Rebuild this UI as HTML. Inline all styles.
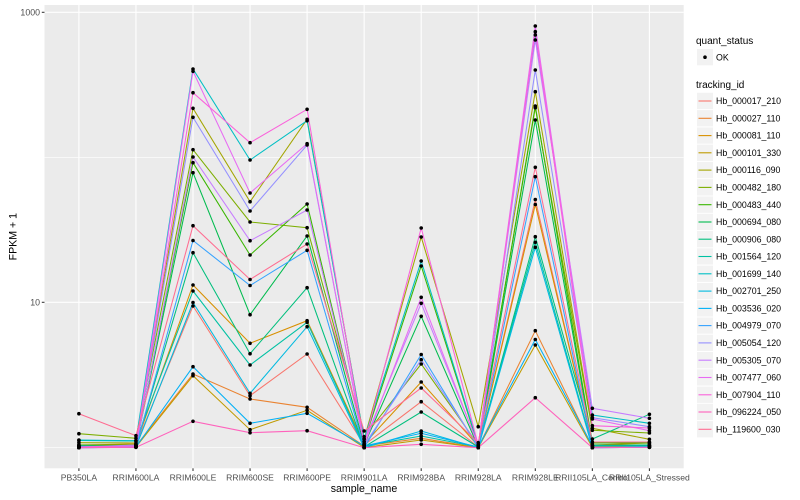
<!DOCTYPE html>
<html><head><meta charset="utf-8"><style>
html,body{margin:0;padding:0;background:#fff;}
svg{display:block;font-family:"Liberation Sans",Arial,sans-serif;}
</style></head><body>
<svg width="800" height="500" viewBox="0 0 800 500" xmlns="http://www.w3.org/2000/svg">
<defs>
<marker id="m" markerWidth="6" markerHeight="6" refX="3" refY="3" markerUnits="userSpaceOnUse" overflow="visible"><circle cx="3" cy="3" r="1.8" fill="#000"/></marker>
</defs>
<rect x="0" y="0" width="800" height="500" fill="#fff"/>
<!-- panel -->
<rect x="44.5" y="5" width="639.2" height="463.3" fill="#EBEBEB"/>
<g stroke="#fff" fill="none">
<line x1="44.5" x2="683.7" y1="157.3" y2="157.3" stroke-width="0.55"/>
<line x1="44.5" x2="683.7" y1="447.3" y2="447.3" stroke-width="0.55"/>
<line x1="44.5" x2="683.7" y1="12.3" y2="12.3" stroke-width="1.1"/>
<line x1="44.5" x2="683.7" y1="302.3" y2="302.3" stroke-width="1.1"/>
<g stroke-width="1.1">
<line x1="78.9" x2="78.9" y1="5" y2="468.3"/>
<line x1="135.95" x2="135.95" y1="5" y2="468.3"/>
<line x1="193" x2="193" y1="5" y2="468.3"/>
<line x1="250.05" x2="250.05" y1="5" y2="468.3"/>
<line x1="307.1" x2="307.1" y1="5" y2="468.3"/>
<line x1="364.15" x2="364.15" y1="5" y2="468.3"/>
<line x1="421.2" x2="421.2" y1="5" y2="468.3"/>
<line x1="478.25" x2="478.25" y1="5" y2="468.3"/>
<line x1="535.3" x2="535.3" y1="5" y2="468.3"/>
<line x1="592.35" x2="592.35" y1="5" y2="468.3"/>
<line x1="649.4" x2="649.4" y1="5" y2="468.3"/>
</g>
</g>
<!-- series lines -->
<g fill="none" stroke-width="1.05">
<polyline stroke="#F8766D" points="78.9,446 135.95,445 193,306 250.05,395.7 307.1,354 364.15,445 421.2,401.7 478.25,447 535.3,199.5 592.35,446 649.4,445"/>
<polyline stroke="#EA8331" points="78.9,447 135.95,446 193,374 250.05,399 307.1,407.3 364.15,446 421.2,438.3 478.25,447.5 535.3,330.7 592.35,447 649.4,446"/>
<polyline stroke="#D89000" points="78.9,445 135.95,444 193,285 250.05,343.3 307.1,320.7 364.15,444 421.2,382 478.25,446 535.3,204.5 592.35,445 649.4,443"/>
<polyline stroke="#C09B00" points="78.9,447.5 135.95,447 193,375.7 250.05,429.7 307.1,410.3 364.15,447.5 421.2,440 478.25,447.7 535.3,345 592.35,447.5 649.4,447"/>
<polyline stroke="#A3A500" points="78.9,442.7 135.95,443 193,108.3 250.05,201.7 307.1,119.3 364.15,439 421.2,237 478.25,426.7 535.3,91.7 592.35,428.3 649.4,439.3"/>
<polyline stroke="#7CAE00" points="78.9,433.7 135.95,438.3 193,149.7 250.05,222 307.1,227.7 364.15,436.7 421.2,364 478.25,445 535.3,107.7 592.35,430.3 649.4,433"/>
<polyline stroke="#39B600" points="78.9,445 135.95,445 193,162.7 250.05,255 307.1,204 364.15,441.7 421.2,266 478.25,446 535.3,106 592.35,443 649.4,443"/>
<polyline stroke="#00BB4E" points="78.9,446 135.95,446 193,172.7 250.05,314.7 307.1,236 364.15,445 421.2,316.3 478.25,447 535.3,120 592.35,445 649.4,445"/>
<polyline stroke="#00BF7D" points="78.9,447 135.95,446 193,252.7 250.05,353.7 307.1,287.7 364.15,447 421.2,412 478.25,447 535.3,236.7 592.35,439 649.4,414.3"/>
<polyline stroke="#00C1A3" points="78.9,440.5 135.95,441 193,291 250.05,365 307.1,322.3 364.15,446 421.2,436 478.25,447 535.3,242.3 592.35,446 649.4,446"/>
<polyline stroke="#00BFC4" points="78.9,440 135.95,440.7 193,69 250.05,160 307.1,120.7 364.15,439 421.2,261 478.25,445 535.3,35 592.35,415 649.4,423.3"/>
<polyline stroke="#00BAE0" points="78.9,447.7 135.95,447 193,302.5 250.05,393.3 307.1,326.7 364.15,447.7 421.2,431 478.25,447.7 535.3,247.3 592.35,447.7 649.4,447.3"/>
<polyline stroke="#00B0F6" points="78.9,446 135.95,447 193,366.7 250.05,423.3 307.1,413.3 364.15,446 421.2,433.3 478.25,447 535.3,339.5 592.35,446 649.4,446"/>
<polyline stroke="#35A2FF" points="78.9,447.7 135.95,447.3 193,240.5 250.05,285.5 307.1,250.3 364.15,447.7 421.2,354.5 478.25,447.7 535.3,176.7 592.35,447.7 649.4,447.3"/>
<polyline stroke="#9590FF" points="78.9,447 135.95,445 193,117.3 250.05,211 307.1,145 364.15,445 421.2,359.7 478.25,446 535.3,70 592.35,417.7 649.4,426.7"/>
<polyline stroke="#C77CFF" points="78.9,447.7 135.95,447 193,157 250.05,240.7 307.1,210 364.15,441.7 421.2,303.3 478.25,445 535.3,40 592.35,408.3 649.4,418.3"/>
<polyline stroke="#E76BF3" points="78.9,447 135.95,446 193,71.3 250.05,193 307.1,143.7 364.15,445 421.2,297.3 478.25,446 535.3,26 592.35,419 649.4,430.7"/>
<polyline stroke="#FA62DB" points="78.9,447 135.95,446 193,92.7 250.05,142.7 307.1,109.3 364.15,444 421.2,228 478.25,445 535.3,31.7 592.35,425.7 649.4,428"/>
<polyline stroke="#FF62BC" points="78.9,447.7 135.95,447.3 193,421.3 250.05,432.7 307.1,430.7 364.15,447.7 421.2,444.3 478.25,447.7 535.3,397.7 592.35,447.7 649.4,447.3"/>
<polyline stroke="#FF6C91" points="78.9,413.7 135.95,435.7 193,225.7 250.05,279.5 307.1,244 364.15,431 421.2,388 478.25,442.7 535.3,167.3 592.35,442 649.4,442"/>
</g>
<!-- points -->
<g fill="none" stroke="none" marker-start="url(#m)" marker-mid="url(#m)" marker-end="url(#m)">
<polyline points="78.9,446 135.95,445 193,306 250.05,395.7 307.1,354 364.15,445 421.2,401.7 478.25,447 535.3,199.5 592.35,446 649.4,445"/>
<polyline points="78.9,447 135.95,446 193,374 250.05,399 307.1,407.3 364.15,446 421.2,438.3 478.25,447.5 535.3,330.7 592.35,447 649.4,446"/>
<polyline points="78.9,445 135.95,444 193,285 250.05,343.3 307.1,320.7 364.15,444 421.2,382 478.25,446 535.3,204.5 592.35,445 649.4,443"/>
<polyline points="78.9,447.5 135.95,447 193,375.7 250.05,429.7 307.1,410.3 364.15,447.5 421.2,440 478.25,447.7 535.3,345 592.35,447.5 649.4,447"/>
<polyline points="78.9,442.7 135.95,443 193,108.3 250.05,201.7 307.1,119.3 364.15,439 421.2,237 478.25,426.7 535.3,91.7 592.35,428.3 649.4,439.3"/>
<polyline points="78.9,433.7 135.95,438.3 193,149.7 250.05,222 307.1,227.7 364.15,436.7 421.2,364 478.25,445 535.3,107.7 592.35,430.3 649.4,433"/>
<polyline points="78.9,445 135.95,445 193,162.7 250.05,255 307.1,204 364.15,441.7 421.2,266 478.25,446 535.3,106 592.35,443 649.4,443"/>
<polyline points="78.9,446 135.95,446 193,172.7 250.05,314.7 307.1,236 364.15,445 421.2,316.3 478.25,447 535.3,120 592.35,445 649.4,445"/>
<polyline points="78.9,447 135.95,446 193,252.7 250.05,353.7 307.1,287.7 364.15,447 421.2,412 478.25,447 535.3,236.7 592.35,439 649.4,414.3"/>
<polyline points="78.9,440.5 135.95,441 193,291 250.05,365 307.1,322.3 364.15,446 421.2,436 478.25,447 535.3,242.3 592.35,446 649.4,446"/>
<polyline points="78.9,440 135.95,440.7 193,69 250.05,160 307.1,120.7 364.15,439 421.2,261 478.25,445 535.3,35 592.35,415 649.4,423.3"/>
<polyline points="78.9,447.7 135.95,447 193,302.5 250.05,393.3 307.1,326.7 364.15,447.7 421.2,431 478.25,447.7 535.3,247.3 592.35,447.7 649.4,447.3"/>
<polyline points="78.9,446 135.95,447 193,366.7 250.05,423.3 307.1,413.3 364.15,446 421.2,433.3 478.25,447 535.3,339.5 592.35,446 649.4,446"/>
<polyline points="78.9,447.7 135.95,447.3 193,240.5 250.05,285.5 307.1,250.3 364.15,447.7 421.2,354.5 478.25,447.7 535.3,176.7 592.35,447.7 649.4,447.3"/>
<polyline points="78.9,447 135.95,445 193,117.3 250.05,211 307.1,145 364.15,445 421.2,359.7 478.25,446 535.3,70 592.35,417.7 649.4,426.7"/>
<polyline points="78.9,447.7 135.95,447 193,157 250.05,240.7 307.1,210 364.15,441.7 421.2,303.3 478.25,445 535.3,40 592.35,408.3 649.4,418.3"/>
<polyline points="78.9,447 135.95,446 193,71.3 250.05,193 307.1,143.7 364.15,445 421.2,297.3 478.25,446 535.3,26 592.35,419 649.4,430.7"/>
<polyline points="78.9,447 135.95,446 193,92.7 250.05,142.7 307.1,109.3 364.15,444 421.2,228 478.25,445 535.3,31.7 592.35,425.7 649.4,428"/>
<polyline points="78.9,447.7 135.95,447.3 193,421.3 250.05,432.7 307.1,430.7 364.15,447.7 421.2,444.3 478.25,447.7 535.3,397.7 592.35,447.7 649.4,447.3"/>
<polyline points="78.9,413.7 135.95,435.7 193,225.7 250.05,279.5 307.1,244 364.15,431 421.2,388 478.25,442.7 535.3,167.3 592.35,442 649.4,442"/>
</g>
<!-- axes ticks -->
<g stroke="#333" stroke-width="1.05">
<line x1="41.8" x2="44.5" y1="12.3" y2="12.3"/>
<line x1="41.8" x2="44.5" y1="302.3" y2="302.3"/>
<line x1="78.9" x2="78.9" y1="468.3" y2="471"/>
<line x1="135.95" x2="135.95" y1="468.3" y2="471"/>
<line x1="193" x2="193" y1="468.3" y2="471"/>
<line x1="250.05" x2="250.05" y1="468.3" y2="471"/>
<line x1="307.1" x2="307.1" y1="468.3" y2="471"/>
<line x1="364.15" x2="364.15" y1="468.3" y2="471"/>
<line x1="421.2" x2="421.2" y1="468.3" y2="471"/>
<line x1="478.25" x2="478.25" y1="468.3" y2="471"/>
<line x1="535.3" x2="535.3" y1="468.3" y2="471"/>
<line x1="592.35" x2="592.35" y1="468.3" y2="471"/>
<line x1="649.4" x2="649.4" y1="468.3" y2="471"/>
</g>
<g fill="#4D4D4D" font-size="8.8">
<text x="40" y="15.5" text-anchor="end">1000</text>
<text x="40" y="305.5" text-anchor="end">10</text>
</g>
<g fill="#4D4D4D" font-size="8.6" text-anchor="middle">
<text x="78.9" y="480.5">PB350LA</text>
<text x="135.95" y="480.5">RRIM600LA</text>
<text x="193" y="480.5">RRIM600LE</text>
<text x="250.05" y="480.5">RRIM600SE</text>
<text x="307.1" y="480.5">RRIM600PE</text>
<text x="364.15" y="480.5">RRIM901LA</text>
<text x="421.2" y="480.5">RRIM928BA</text>
<text x="478.25" y="480.5">RRIM928LA</text>
<text x="535.3" y="480.5">RRIM928LE</text>
<text x="592.35" y="480.5">RRII105LA_Control</text>
<text x="649.4" y="480.5">RRII105LA_Stressed</text>
</g>
<text x="364" y="492" font-size="10.6" text-anchor="middle" fill="#000">sample_name</text>
<text x="0" y="0" font-size="10.6" text-anchor="middle" fill="#000" transform="translate(16.5,236.7) rotate(-90)">FPKM + 1</text>
<!-- legend -->
<g font-size="10" fill="#000">
<text x="696" y="44.2">quant_status</text>
<text x="696" y="87.8">tracking_id</text>
</g>
<rect x="697" y="49" width="16" height="16.3" fill="#F2F2F2"/>
<circle cx="705" cy="57.2" r="1.8" fill="#000"/>
<text x="716" y="60.3" font-size="8.8" fill="#000">OK</text>
<g id="keys">
<g fill="#F2F2F2">
<rect x="697" y="92.8" width="16" height="16.3"/>
<rect x="697" y="110.1" width="16" height="16.3"/>
<rect x="697" y="127.4" width="16" height="16.3"/>
<rect x="697" y="144.6" width="16" height="16.3"/>
<rect x="697" y="161.9" width="16" height="16.3"/>
<rect x="697" y="179.2" width="16" height="16.3"/>
<rect x="697" y="196.5" width="16" height="16.3"/>
<rect x="697" y="213.8" width="16" height="16.3"/>
<rect x="697" y="231.0" width="16" height="16.3"/>
<rect x="697" y="248.3" width="16" height="16.3"/>
<rect x="697" y="265.6" width="16" height="16.3"/>
<rect x="697" y="282.9" width="16" height="16.3"/>
<rect x="697" y="300.2" width="16" height="16.3"/>
<rect x="697" y="317.4" width="16" height="16.3"/>
<rect x="697" y="334.7" width="16" height="16.3"/>
<rect x="697" y="352.0" width="16" height="16.3"/>
<rect x="697" y="369.3" width="16" height="16.3"/>
<rect x="697" y="386.6" width="16" height="16.3"/>
<rect x="697" y="403.8" width="16" height="16.3"/>
<rect x="697" y="421.1" width="16" height="16.3"/>
</g>
<g stroke-width="1.1">
<line x1="698.5" x2="711.5" y1="101" y2="101" stroke="#F8766D"/>
<line x1="698.5" x2="711.5" y1="118.3" y2="118.3" stroke="#EA8331"/>
<line x1="698.5" x2="711.5" y1="135.6" y2="135.6" stroke="#D89000"/>
<line x1="698.5" x2="711.5" y1="152.8" y2="152.8" stroke="#C09B00"/>
<line x1="698.5" x2="711.5" y1="170.1" y2="170.1" stroke="#A3A500"/>
<line x1="698.5" x2="711.5" y1="187.4" y2="187.4" stroke="#7CAE00"/>
<line x1="698.5" x2="711.5" y1="204.7" y2="204.7" stroke="#39B600"/>
<line x1="698.5" x2="711.5" y1="222.0" y2="222.0" stroke="#00BB4E"/>
<line x1="698.5" x2="711.5" y1="239.2" y2="239.2" stroke="#00BF7D"/>
<line x1="698.5" x2="711.5" y1="256.5" y2="256.5" stroke="#00C1A3"/>
<line x1="698.5" x2="711.5" y1="273.8" y2="273.8" stroke="#00BFC4"/>
<line x1="698.5" x2="711.5" y1="291.1" y2="291.1" stroke="#00BAE0"/>
<line x1="698.5" x2="711.5" y1="308.4" y2="308.4" stroke="#00B0F6"/>
<line x1="698.5" x2="711.5" y1="325.6" y2="325.6" stroke="#35A2FF"/>
<line x1="698.5" x2="711.5" y1="342.9" y2="342.9" stroke="#9590FF"/>
<line x1="698.5" x2="711.5" y1="360.2" y2="360.2" stroke="#C77CFF"/>
<line x1="698.5" x2="711.5" y1="377.5" y2="377.5" stroke="#E76BF3"/>
<line x1="698.5" x2="711.5" y1="394.8" y2="394.8" stroke="#FA62DB"/>
<line x1="698.5" x2="711.5" y1="412.0" y2="412.0" stroke="#FF62BC"/>
<line x1="698.5" x2="711.5" y1="429.3" y2="429.3" stroke="#FF6C91"/>
</g>
<g font-size="8.8" fill="#000">
<text x="716" y="104.1">Hb_000017_210</text>
<text x="716" y="121.4">Hb_000027_110</text>
<text x="716" y="138.7">Hb_000081_110</text>
<text x="716" y="155.9">Hb_000101_330</text>
<text x="716" y="173.2">Hb_000116_090</text>
<text x="716" y="190.5">Hb_000482_180</text>
<text x="716" y="207.8">Hb_000483_440</text>
<text x="716" y="225.1">Hb_000694_080</text>
<text x="716" y="242.3">Hb_000906_080</text>
<text x="716" y="259.6">Hb_001564_120</text>
<text x="716" y="276.9">Hb_001699_140</text>
<text x="716" y="294.2">Hb_002701_250</text>
<text x="716" y="311.5">Hb_003536_020</text>
<text x="716" y="328.7">Hb_004979_070</text>
<text x="716" y="346.0">Hb_005054_120</text>
<text x="716" y="363.3">Hb_005305_070</text>
<text x="716" y="380.6">Hb_007477_060</text>
<text x="716" y="397.9">Hb_007904_110</text>
<text x="716" y="415.1">Hb_096224_050</text>
<text x="716" y="432.4">Hb_119600_030</text>
</g>
</g>
</svg>
</body></html>
